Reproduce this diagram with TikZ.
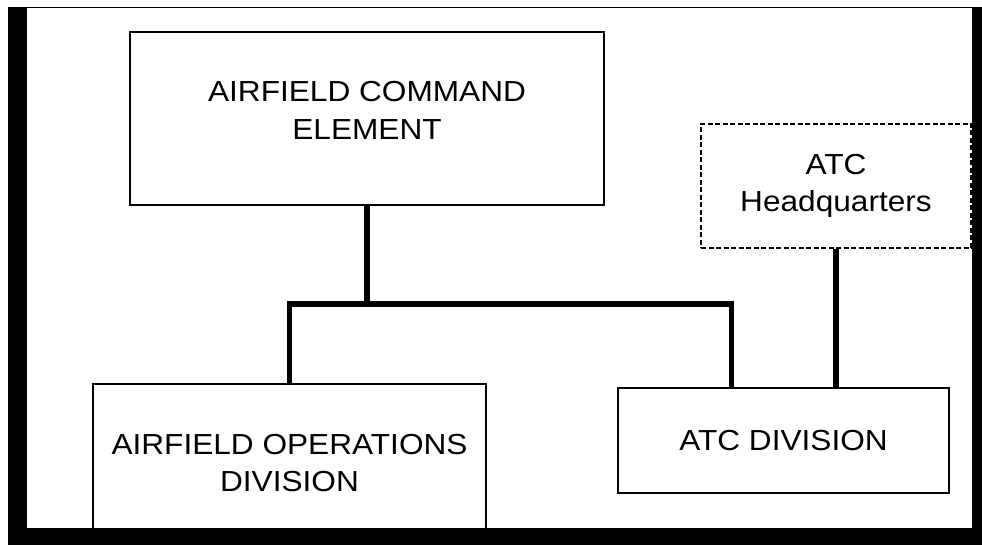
\documentclass[tikz,border=0pt]{standalone}
\usepackage{fontspec}
\setmainfont{Liberation Sans}[FakeStretch=1.09]
\usepackage{tikz}
\usetikzlibrary{positioning,calc}

\begin{document}
\begin{tikzpicture}[x=1pt,y=-1pt,
  box/.style={draw,line width=2.8pt,align=center,inner sep=0pt,font=\fontsize{29}{37.5}\selectfont},
  dashbox/.style={box,line width=2.5pt,dash pattern=on 5pt off 2.5pt},
  link/.style={line width=5.5pt}]
  % frame
  \fill[white](0,0) rectangle (982,545);
  \fill(8,7) rectangle (982,545);
  \fill[white](27,8.5) rectangle (972,528);
  \useasboundingbox (0,0) rectangle (982,545);
  % boxes
  \node[box,minimum width=474pt,minimum height=173pt,text depth=16pt](ace) at (367,118.5){AIRFIELD COMMAND\\ELEMENT};
  \node[box,minimum width=393pt,minimum height=158pt](aod) at (289.5,463){AIRFIELD OPERATIONS\\DIVISION};
  \node[box,minimum width=331pt,minimum height=105pt](atc) at (783.5,440.5){ATC DIVISION};
  \node[dashbox,minimum width=270pt,minimum height=124pt](hq) at (836,186){ATC\\Headquarters};
  \fill[black](8,528) rectangle (982,545);
  % connectors
  \coordinate(bus) at (367,304);
  \coordinate(atcin) at ([xshift=115pt]atc.north west);
  \draw[link](ace.south)--(bus);
  \draw[link](aod.north)|-(bus)-|(atcin);
  \draw[link](hq.south)--(hq.south|-atc.north);
\end{tikzpicture}
\end{document}
